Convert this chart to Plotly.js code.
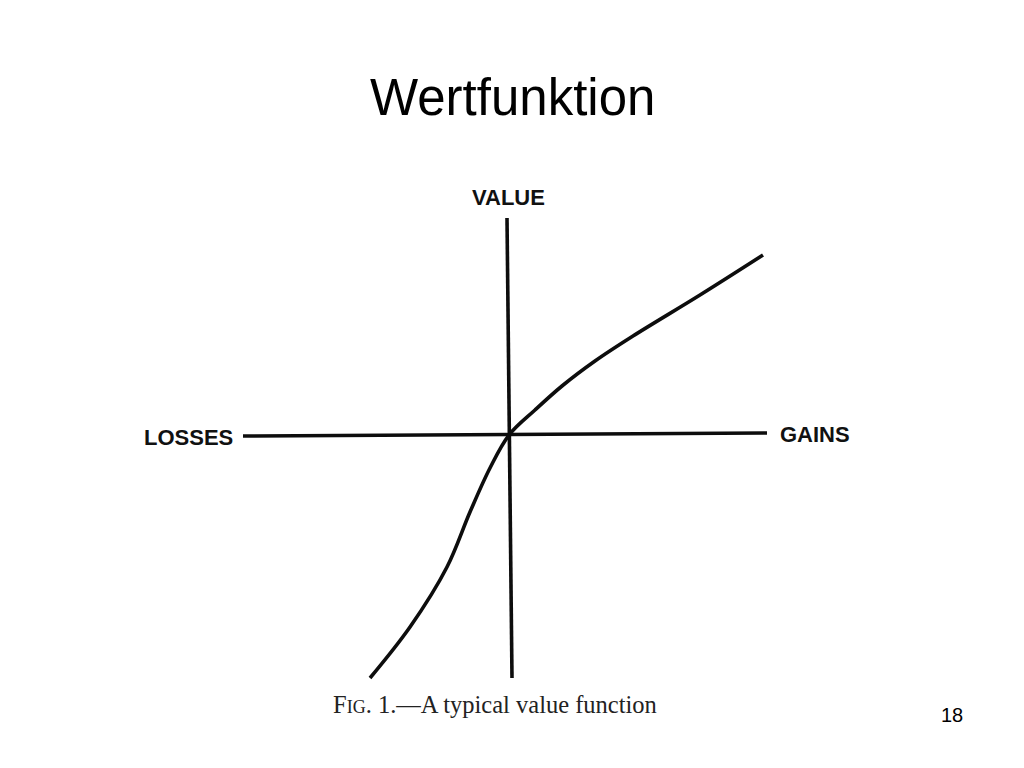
<!DOCTYPE html>
<html>
<head>
<meta charset="utf-8">
<script src="https://cdn.plot.ly/plotly-3.0.1.min.js"></script>
<style>html,body{margin:0;padding:0;background:#fff;}#chart{width:1024px;height:768px;}</style>
</head>
<body>
<div id="chart"></div>
<script>
// Value function (Kahneman & Tversky, Fig. 1) – gains/losses vs. value
const curveGains = [-139, -99, -62, -39, -19, 0, 26, 53, 86, 124, 191, 254];
const curveValue = [-243, -192, -132, -77, -33, 0, 25, 49, 74, 99, 140, 180];
const axisGainsX = [-266, 258];
const axisGainsY = [-1, 2];
const axisValueX = [-2, 3];
const axisValueY = [217, -243];
const labels = ["VALUE", "LOSSES", "GAINS"];
const titleText = "Wertfunktion";
const captionText = "F<span style=\"font-size:18px\">IG</span>. 1.\u2014A typical value function";
const pageNumber = "18";

const ink = "#0d0d0d";
const traces = [
  {x: axisGainsX, y: axisGainsY, mode: "lines", line: {color: ink, width: 3.6}, hoverinfo: "skip"},
  {x: axisValueX, y: axisValueY, mode: "lines", line: {color: ink, width: 3.6}, hoverinfo: "skip"},
  {x: curveGains, y: curveValue, mode: "lines", line: {color: ink, width: 3.6, shape: "spline", smoothing: 1}, hoverinfo: "skip"}
];

const labFont = {family: "Liberation Sans, Arial, sans-serif", size: 22, color: "#111"};
const layout = {
  width: 1024, height: 768,
  margin: {l: 0, r: 0, t: 0, b: 0},
  paper_bgcolor: "#ffffff", plot_bgcolor: "#ffffff",
  showlegend: false,
  xaxis: {range: [-509, 515], visible: false, fixedrange: true},
  yaxis: {range: [-333, 435], visible: false, fixedrange: true},
  annotations: [
    {x: -1, y: 238, xref: "x", yref: "y", text: "<b>" + labels[0] + "</b>", showarrow: false, font: labFont},
    {x: -321, y: -2, xref: "x", yref: "y", text: "<b>" + labels[1] + "</b>", showarrow: false, font: labFont},
    {x: 306, y: 1, xref: "x", yref: "y", text: "<b>" + labels[2] + "</b>", showarrow: false, font: labFont},
    {x: 0.5, y: 435 - 97, xref: "paper", yref: "y", text: titleText, showarrow: false,
     font: {family: "Liberation Sans, Arial, sans-serif", size: 51, color: "#000"}},
    {x: -14, y: -269, xref: "x", yref: "y", text: captionText, showarrow: false,
     font: {family: "Liberation Serif, Times New Roman, serif", size: 24.5, color: "#222"}},
    {x: 443, y: -280, xref: "x", yref: "y", text: pageNumber, showarrow: false,
     font: {family: "Liberation Sans, Arial, sans-serif", size: 20, color: "#000"}}
  ]
};

Plotly.newPlot("chart", traces, layout, {staticPlot: true, displayModeBar: false});
</script>
</body>
</html>
